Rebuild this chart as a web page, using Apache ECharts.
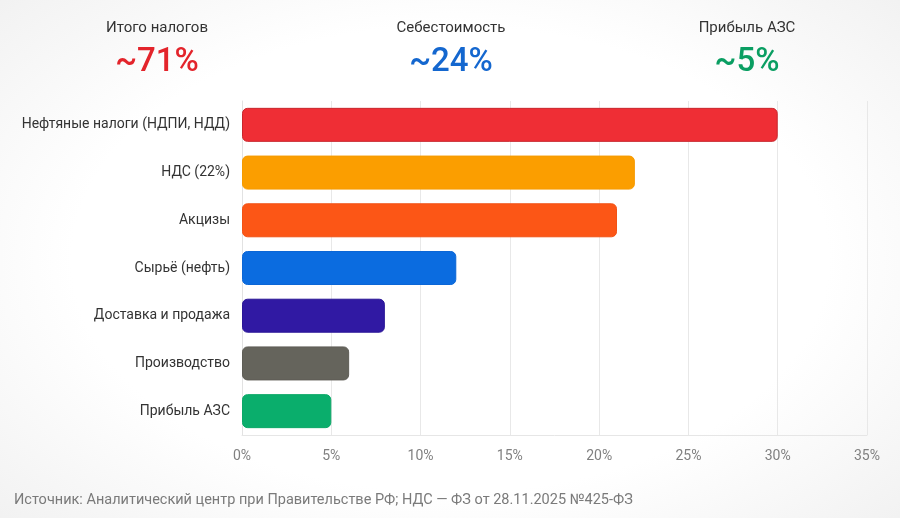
<!DOCTYPE html>
<html>
<head>
<meta charset="utf-8">
<script src="https://cdn.jsdelivr.net/npm/echarts@6/dist/echarts.min.js"></script>
<style>
  html, body { margin: 0; padding: 0; width: 900px; height: 518px; overflow: hidden; }
  body { background: radial-gradient(ellipse 70% 75% at 50% 50%, #ffffff 60%, #f1f1f1 100%); }
  #chart { width: 900px; height: 518px; }
</style>
</head>
<body>
<div id="chart"></div>
<script>
const categories = ['Нефтяные налоги (НДПИ, НДД)', 'НДС (22%)', 'Акцизы', 'Сырьё (нефть)', 'Доставка и продажа', 'Производство', 'Прибыль АЗС'];
const values = [30, 22, 21, 12, 8, 6, 5];
const barColors = ['#ef2e35', '#fb9e00', '#fc5616', '#0b6ce0', '#3019a3', '#65645c', '#0aae6c'];
const barBorders = ['#c9262c', '#f59a00', '#f25214', '#0b66d6', '#2a1697', '#5e5d56', '#0aa867'];
const headerLabels = ['Итого налогов', 'Себестоимость', 'Прибыль АЗС'];
const headerValues = ['~71%', '~24%', '~5%'];
const headerColors = ['#e3242b', '#1467cf', '#0a9e62'];
const headerX = [157, 451, 747];
const sourceText = 'Источник: Аналитический центр при Правительстве РФ; НДС — ФЗ от 28.11.2025 №425-ФЗ';

const font = 'Roboto, "Noto Sans", sans-serif';
const chart = echarts.init(document.getElementById('chart'), null, { renderer: 'canvas' });

const graphics = [];
headerLabels.forEach((t, i) => {
  graphics.push({ type: 'text', x: headerX[i], y: 28, style: { text: t, fill: '#333', font: '400 15px ' + font, textAlign: 'center', textVerticalAlign: 'middle' } });
  graphics.push({ type: 'text', x: headerX[i], y: 63, style: { text: headerValues[i], fill: headerColors[i], font: '500 33px ' + font, textAlign: 'center', textVerticalAlign: 'middle' } });
});
graphics.push({ type: 'text', x: 14, y: 500, style: { text: sourceText, fill: '#7a7a7a', font: '400 14.5px ' + font, textAlign: 'left', textVerticalAlign: 'middle' } });

chart.setOption({
  backgroundColor: 'transparent',
  animation: false,
  grid: { left: 242, right: 33, top: 101, bottom: 83 },
  xAxis: {
    type: 'value', min: 0, max: 35, interval: 5,
    axisLine: { show: true, lineStyle: { color: '#e6e6e6' } },
    axisTick: { show: false },
    splitLine: { show: true, lineStyle: { color: '#e8e8e8', width: 1 } },
    axisLabel: { formatter: '{value}%', color: '#808080', fontSize: 14, fontFamily: font, margin: 14 }
  },
  yAxis: {
    type: 'category', data: categories, inverse: true,
    axisLine: { show: true, lineStyle: { color: '#e2e2e2' } },
    axisTick: { show: false },
    axisLabel: { color: '#333', fontSize: 14, fontFamily: font, margin: 12 }
  },
  series: [{
    type: 'bar',
    barWidth: 34,
    data: values.map((v, i) => ({ value: v, itemStyle: { color: barColors[i], borderColor: barBorders[i], borderWidth: 1 } })),
    itemStyle: { borderRadius: 5 }
  }],
  graphic: graphics
});
</script>
</body>
</html>
